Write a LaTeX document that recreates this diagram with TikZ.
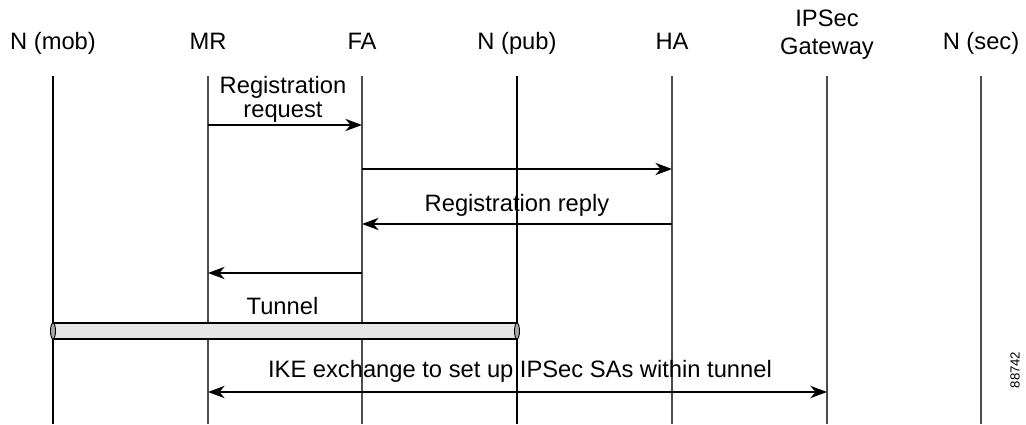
\documentclass[tikz,border=0pt]{standalone}
\usepackage{fontspec}
\setmainfont{Liberation Sans}
\usetikzlibrary{arrows.meta,positioning,calc}

\begin{document}
\begin{tikzpicture}[
  >={Stealth[length=9.5pt,width=7pt,inset=3pt]},
  hdr/.style={align=center,font=\fontsize{13.5}{16}\selectfont,inner sep=0pt},
  lbl/.style={align=center,font=\fontsize{13.5}{13.6}\selectfont,inner sep=0pt},
  life/.style={draw=black!70,line width=0.6pt},
  msg/.style={->,line width=0.8pt}
]
  \useasboundingbox (0,0) rectangle (20.52,-8.5);

  % headers
  \node[hdr,anchor=base] (mob) at (1.06,-1.00) {N (mob)};
  \node[hdr,anchor=base] (mr)  at (4.16,-1.00) {MR};
  \node[hdr,anchor=base] (fa)  at (7.24,-1.00) {FA};
  \node[hdr,anchor=base] (pub) at (10.34,-1.00) {N (pub)};
  \node[hdr,anchor=base] (ha)  at (13.44,-1.00) {HA};
  \node[hdr] (gw)  at (16.54,-0.70) {IPSec\\Gateway};
  \node[hdr,anchor=base] (sec) at (19.62,-1.00) {N (sec)};

  % lifelines
  \coordinate (mobT) at (1.06,-1.52);  \coordinate (mobB) at (1.06,-8.48);
  \coordinate (mrT)  at (4.16,-1.52);  \coordinate (mrB)  at (4.16,-8.48);
  \coordinate (faT)  at (7.24,-1.52);  \coordinate (faB)  at (7.24,-8.48);
  \coordinate (pubT) at (10.34,-1.52); \coordinate (pubB) at (10.34,-8.48);
  \coordinate (haT)  at (13.44,-1.52); \coordinate (haB)  at (13.44,-8.48);
  \coordinate (gwT)  at (16.54,-1.52); \coordinate (gwB)  at (16.54,-8.48);
  \coordinate (secT) at (19.62,-1.52); \coordinate (secB) at (19.62,-8.48);
  \draw[life,draw=black] (mobT)--(mobB);
  \draw[life] (mrT)--(mrB);
  \draw[life] (faT)--(faB);
  \draw[life,draw=black] (pubT)--(pubB);
  \draw[life] (haT)--(haB);
  \draw[life] (gwT)--(gwB);
  \draw[life] (secT)--(secB);

  % tunnel (drawn first so arrows sit above)
  \coordinate (tunL) at (1.06,-6.62);
  \coordinate (tunR) at (10.34,-6.62);
  \draw[fill=black!10,line width=0.6pt] ($(tunL)+(0,0.16)$) rectangle ($(tunR)+(0,-0.16)$);
  \draw[fill=black!35,line width=0.5pt] (tunL) ellipse [x radius=0.05,y radius=0.16];
  \draw[fill=black!35,line width=0.5pt] (tunR) ellipse [x radius=0.05,y radius=0.16];
  \node[lbl,anchor=base] (tunlbl) at (5.65,-6.30) {Tunnel};

  % messages
  \coordinate (m1a) at (4.16,-2.50);  \coordinate (m1b) at (7.24,-2.50);
  \coordinate (m2a) at (7.24,-3.38);  \coordinate (m2b) at (13.44,-3.38);
  \coordinate (m3a) at (13.44,-4.48); \coordinate (m3b) at (7.24,-4.48);
  \coordinate (m4a) at (7.24,-5.46);  \coordinate (m4b) at (4.16,-5.46);
  \coordinate (m5a) at (4.16,-7.84);  \coordinate (m5b) at (16.54,-7.84);

  \draw[msg] (m1a)--(m1b);
  \node[lbl] (reqlbl) at (5.66,-1.98) {Registration\\request};
  \draw[msg] (m2a)--(m2b);
  \draw[msg] (m3a)--(m3b);
  \node[lbl,anchor=base] (replbl) at (10.34,-4.24) {Registration reply};
  \draw[msg] (m4a)--(m4b);
  \draw[msg,<->] (m5a)--(m5b);
  \node[lbl,anchor=base] (ikelbl) at (10.40,-7.56) {IKE exchange to set up IPSec SAs within tunnel};

  \node[font=\fontsize{7.5}{9}\selectfont,rotate=90,inner sep=0pt] (fig) at (20.30,-7.40) {88742};
\end{tikzpicture}
\end{document}
